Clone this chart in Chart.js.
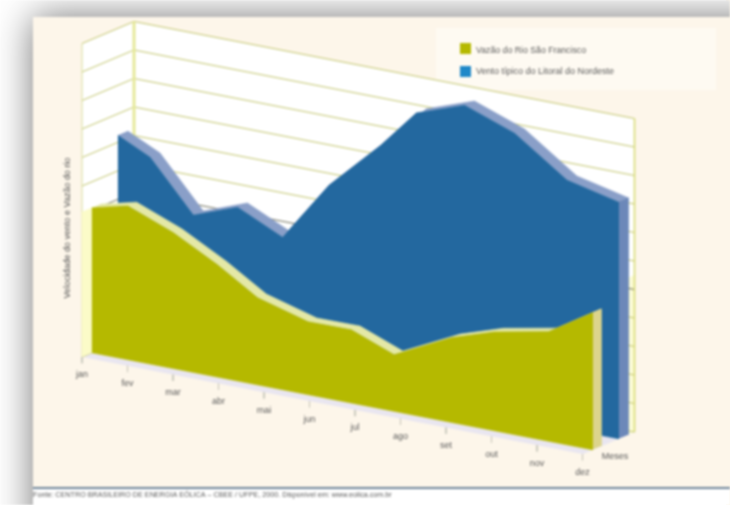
<!DOCTYPE html>
<html lang="pt-BR">

<head>
  <meta charset="UTF-8">
  <script src="https://cdn.jsdelivr.net/npm/chart.js@4"></script>
  <title>Vazão do rio e vento</title>
  <style>
    body { margin: 0; background: linear-gradient(to left, #fdf6ea 4px, transparent 4px), #fff; }
    canvas { display: block; filter: blur(0.8px); }
  </style>
</head>

<body>
  <canvas id="areaChart" width="730" height="505"></canvas>

  <script>
    const mesesRotulos = ['jan', 'fev', 'mar', 'abr', 'mai', 'jun', 'jul', 'ago', 'set', 'out', 'nov', 'dez'];
    const niveis = [0, 1, 2, 3, 4, 5, 6, 7, 8, 9, 10, 11];

    // the vertices in the picture do not sit exactly on the month ticks
    const ventoMes = [0, 0.71, 1.66, 2.63, 3.62, 4.64, 5.78, 6.56, 7.62, 8.72, 9.87, 11];
    const ventoValores = [7.25, 6.7, 4.96, 5.54, 4.79, 6.93, 8.69, 10.06, 10.66, 10.02, 8.73, 8.31];
    const vazaoMes = [0, 0.79, 1.79, 2.76, 3.64, 4.75, 5.7, 6.64, 7.9, 8.85, 10.04, 11];
    const vazaoValores = [5.09, 5.4, 4.77, 3.94, 3.06, 2.56, 2.57, 1.99, 2.97, 3.47, 3.85, 4.81];

    const legendaVazao = 'Vazão do Rio São Francisco';
    const legendaVento = 'Vento típico do Litoral do Nordeste';
    const tituloEixoY = 'Velocidade do vento e Vazão do rio';
    const tituloEixoX = 'Meses';
    const fonte = 'Fonte: CENTRO BRASILEIRO DE ENERGIA EÓLICA – CBEE / UFPE, 2000. Disponível em: www.eolica.com.br';

    // oblique projection: month, value, depth (0 front of floor, 1 back wall)
    function proj(mes, valor, prof) {
      return {
        x: 82 + mes * 45.5 + prof * 52,
        y: 357 + mes * 8.82 - valor * 28.5 - prof * 22
      };
    }

    const MES_FIM = mesesRotulos.length - 1;
    const TOPO = niveis[niveis.length - 1];

    function area(pontos, cor) {
      return { data: pontos, showLine: true, fill: 'shape', backgroundColor: cor, borderColor: cor, borderWidth: 0.5, pointRadius: 0, tension: 0 };
    }

    function linha(pontos, cor, largura) {
      return { data: pontos, showLine: true, fill: false, borderColor: cor, borderWidth: largura, pointRadius: 0, tension: 0 };
    }

    function frente(meses, valores, prof) {
      const topo = meses.map((m, i) => proj(m, valores[i], prof));
      return topo.concat([proj(meses[meses.length - 1], 0, prof), proj(meses[0], 0, prof)]);
    }

    function faixa(meses, valores, prof1, prof2) {
      const a = meses.map((m, i) => proj(m, valores[i], prof1));
      const b = meses.map((m, i) => proj(m, valores[i], prof2));
      return a.concat(b.reverse());
    }

    function lado(mes, valor, prof1, prof2) {
      return [proj(mes, 0, prof1), proj(mes, valor, prof1), proj(mes, valor, prof2), proj(mes, 0, prof2)];
    }

    // painter's order, first one is at the back
    const camadas = [];
    camadas.push(area([proj(0, 0, 1), proj(0, TOPO, 1), proj(MES_FIM, TOPO, 1), proj(MES_FIM, 0, 1)], '#ffffff'));
    camadas.push(area([proj(0, 0, 0), proj(0, TOPO, 0), proj(0, TOPO, 1), proj(0, 0, 1)], '#ffffff'));
    camadas.push(area([proj(0, 0, 0), proj(0, 0, 1), proj(MES_FIM, 0, 1), proj(MES_FIM, 0, 0)], '#e9e6f0'));
    camadas.push(area(lado(MES_FIM, 5.5, 0.86, 1), '#fbfbd6'));

    niveis.forEach(n => {
      const cor = n === 5 ? '#5f5f48' : '#c2c56c';
      camadas.push(linha([proj(0, n, 0), proj(0, n, 1), proj(MES_FIM, n, 1)], cor, n === 5 ? 0.9 : 1));
    });
    camadas.push(linha([proj(0, 0, 1), proj(0, TOPO, 1)], '#e6e99a', 3));
    camadas.push(linha([proj(0, 0, 0), proj(0, TOPO, 0)], '#d8dc9a', 1));
    camadas.push(linha([proj(MES_FIM, 0, 1), proj(MES_FIM, TOPO, 1)], '#d6da70', 1.5));

    mesesRotulos.forEach((r, i) => {
      camadas.push(linha([proj(i, 0, 0), proj(i, -0.22, 0)], '#c4c4b8', 1));
    });

    camadas.push(area(faixa(ventoMes, ventoValores, 0.69, 0.88), '#8a9fc8'));
    camadas.push(area(lado(MES_FIM, ventoValores[ventoValores.length - 1], 0.69, 0.88), '#6c88b9'));
    camadas.push(area(frente(ventoMes, ventoValores, 0.69), '#23689f'));
    camadas.push(area(faixa(vazaoMes, vazaoValores, 0.19, 0.36), '#e4e8a6'));
    camadas.push(area(lado(0, vazaoValores[0], 0, 0.19), '#fbfbc8'));
    camadas.push(area(lado(MES_FIM, vazaoValores[vazaoValores.length - 1], 0.19, 0.36), '#dcd48c'));
    camadas.push(area(frente(vazaoMes, vazaoValores, 0.19), '#b5b900'));

    camadas.forEach((c, i) => { c.order = camadas.length - i; });

    const fundo = {
      id: 'fundo',
      beforeDraw(chart) {
        const ctx = chart.ctx;
        ctx.save();
        ctx.fillStyle = '#ffffff';
        ctx.fillRect(0, 0, 730, 505);

        // soft grey shadow round the card, left and top
        ctx.save();
        ctx.shadowColor = 'rgba(0,0,0,0.55)';
        ctx.shadowBlur = 36;
        ctx.fillStyle = '#fdf6ea';
        ctx.fillRect(33, 17, 900, 700);
        ctx.restore();

        ctx.fillStyle = '#fefaf2';
        ctx.fillRect(436, 28, 280, 62);
        ctx.fillStyle = '#ffffff';
        ctx.fillRect(33, 489, 697, 16);
        ctx.fillStyle = '#6d8398';
        ctx.fillRect(33, 487, 697, 2);
        ctx.restore();
      }
    };

    const textos = {
      id: 'textos',
      afterDatasetsDraw(chart) {
        const ctx = chart.ctx;
        const sx = chart.scales.x;
        const sy = chart.scales.y;
        ctx.save();
        ctx.fillStyle = '#5a5a5a';
        ctx.textBaseline = 'middle';
        ctx.font = '9px "Liberation Sans"';
        ctx.textAlign = 'center';
        mesesRotulos.forEach((r, i) => {
          const p = proj(i, 0, 0);
          ctx.fillText(r, sx.getPixelForValue(p.x), sy.getPixelForValue(p.y) + 18);
        });
        ctx.fillText(tituloEixoX, 615, 457);

        ctx.save();
        ctx.translate(68, 228);
        ctx.rotate(-Math.PI / 2);
        ctx.fillText(tituloEixoY, 0, 0, 141);
        ctx.restore();

        ctx.textAlign = 'left';
        ctx.fillStyle = '#b5b900';
        ctx.fillRect(460, 43, 11, 11);
        ctx.fillStyle = '#1f88c8';
        ctx.fillRect(460, 66, 11, 11);
        ctx.fillStyle = '#5a5a5a';
        ctx.fillText(legendaVazao, 476, 51, 110);
        ctx.fillText(legendaVento, 476, 72, 140);

        ctx.font = '7.2px "Liberation Sans"';
        ctx.fillText(fonte, 33, 495, 362);
        ctx.restore();
      }
    };

    new Chart(document.getElementById('areaChart'), {
      type: 'scatter',
      data: { datasets: camadas },
      plugins: [fundo, textos],
      options: {
        responsive: false,
        animation: false,
        layout: { padding: 0 },
        plugins: { legend: { display: false }, tooltip: { enabled: false } },
        scales: {
          x: { type: 'linear', min: 0, max: 730, display: false },
          y: { type: 'linear', min: 0, max: 505, reverse: true, display: false }
        }
      }
    });
  </script>
</body>

</html>
